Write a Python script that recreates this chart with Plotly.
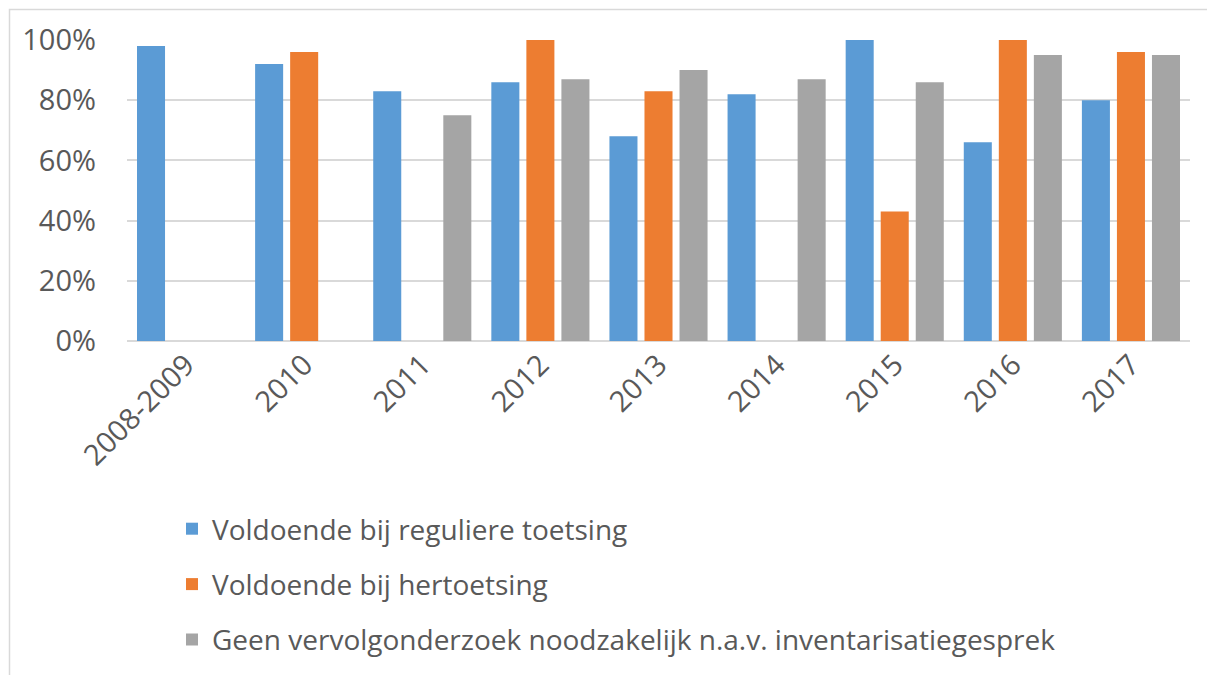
import plotly.graph_objects as go

categories = ["2008-2009", "2010", "2011", "2012", "2013", "2014", "2015", "2016", "2017"]
regulier = [0.98, 0.92, 0.83, 0.86, 0.68, 0.82, 1.00, 0.66, 0.80]
hertoetsing = [None, 0.96, None, 1.00, 0.83, None, 0.43, 1.00, 0.96]
geen_vervolg = [None, None, 0.75, 0.87, 0.90, 0.87, 0.86, 0.95, 0.95]

names = [
    "Voldoende bij reguliere toetsing",
    "Voldoende bij hertoetsing",
    "Geen vervolgonderzoek noodzakelijk n.a.v. inventarisatiegesprek",
]
colors = ["#5B9BD5", "#ED7D31", "#A5A5A5"]
series = [regulier, hertoetsing, geen_vervolg]

fig = go.Figure()
for i, (nm, col, vals) in enumerate(zip(names, colors, series)):
    fig.add_trace(go.Bar(x=categories, y=vals, name=nm, marker_color=col,
                         marker_line_width=0, legendgroup=f"g{i}"))

text_col = "#595959"
font_family = "Open Sans, Liberation Sans, Arial, sans-serif"

W, H = 1207, 667  # page body has an 8px margin

fig.update_layout(
    width=W, height=H,
    margin=dict(l=119, r=25, t=32, b=334, autoexpand=False),
    paper_bgcolor="white", plot_bgcolor="white",
    barmode="group", bargap=0.11, bargroupgap=0.2,
    font=dict(family=font_family, color=text_col, size=29),
    showlegend=True,
    legend=dict(
        xref="container", yref="container",
        x=164 / W, y=1 - 496 / H, xanchor="left", yanchor="top",
        orientation="v", traceorder="grouped",
        tracegroupgap=16,
        font=dict(size=28, color=text_col),
        bgcolor="rgba(0,0,0,0)",
    ),
    xaxis=dict(
        tickangle=-45, showgrid=False, zeroline=False, showline=False,
        tickfont=dict(size=29, color=text_col),
    ),
    yaxis=dict(
        range=[0, 1], dtick=0.2, tickformat=".0%",
        showgrid=True, gridcolor="#D9D9D9", gridwidth=1.5,
        zeroline=True, zerolinecolor="#D9D9D9", zerolinewidth=1.5,
        showline=False, ticklabelstandoff=30,
        tickfont=dict(size=29, color=text_col),
    ),
    shapes=[dict(
        type="rect", xref="paper", yref="paper",
        x0=(1.5 - 119) / 1063, x1=1.3, y0=-2, y1=(301 + 0.5) / 301 + 30 / 301,
        line=dict(color="#D9D9D9", width=1.5), fillcolor="rgba(0,0,0,0)",
        layer="below",
    )],
)

fig.write_html("out.html")
